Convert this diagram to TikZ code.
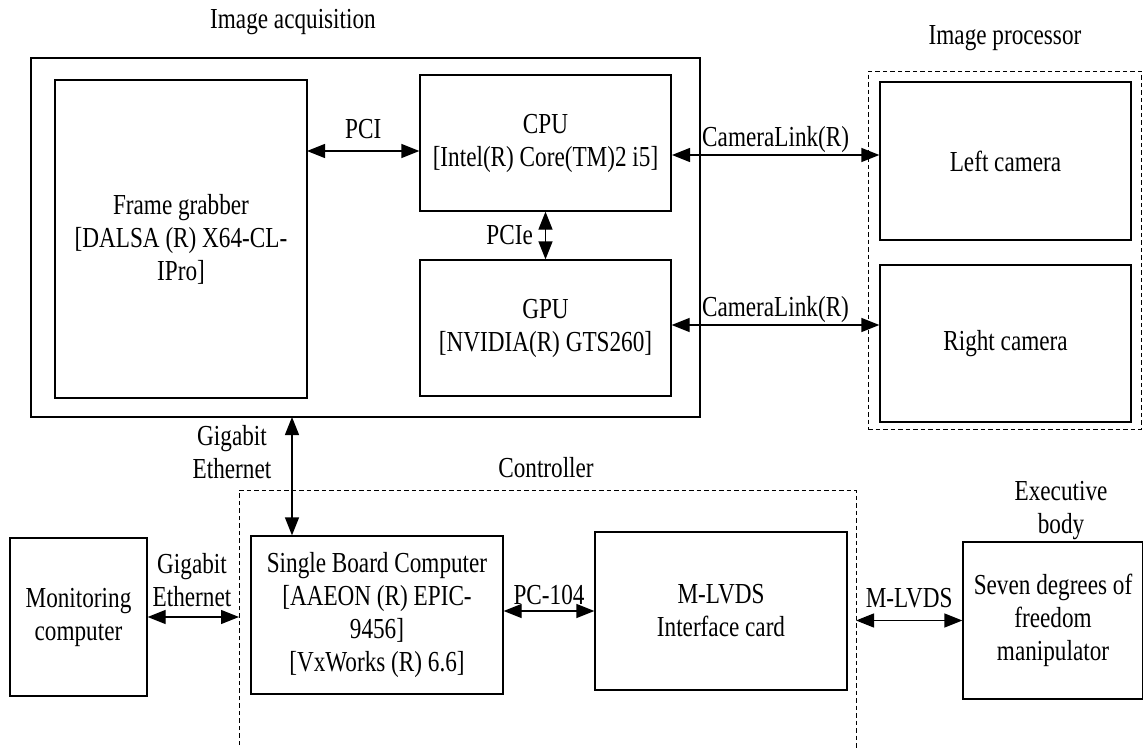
\documentclass[tikz,border=0pt]{standalone}
\usepackage{fontspec}
\setmainfont[FakeStretch=0.8]{Liberation Serif}
\usetikzlibrary{arrows.meta}
\begin{document}
\begin{tikzpicture}[x=1pt,y=-1pt,
  font=\fontsize{29}{33}\selectfont,
  blk/.style={draw, line width=1.3pt, inner sep=0pt, align=center},
  dsh/.style={line width=1pt, dash pattern=on 4.5pt off 3pt},
  grp/.style={draw, dsh, inner sep=0pt},
  lbl/.style={inner sep=0pt, align=center},
  arr/.style={line width=1.3pt, {Triangle[length=18pt,width=14pt]}-{Triangle[length=18pt,width=14pt]}}]
\useasboundingbox (0,0) rectangle (1143,747);
\clip (0,0) rectangle (1143,747);
% group frames
\node[blk, minimum width=669pt, minimum height=359pt] (acq) at (365.5,237.5) {};
\node[grp, minimum width=273pt, minimum height=358pt] (proc) at (1004.5,250) {};
\coordinate (ctl) at (239,490);
\coordinate (ctr) at (856,490);
\draw[dsh] (239,760) -- (ctl) -- (ctr) -- (856,760);
% blocks
\node[blk, minimum width=252pt, minimum height=318pt] (fg) at (181,239) {Frame grabber\\{[}DALSA (R) X64-CL-\\IPro]};
\node[blk, minimum width=251pt, minimum height=136pt] (cpu) at (545.5,143) {CPU\\{[}Intel(R) Core(TM)2 i5]};
\node[blk, minimum width=251pt, minimum height=136pt] (gpu) at (545.5,328) {GPU\\{[}NVIDIA(R) GTS260]};
\node[blk, minimum width=251pt, minimum height=158pt] (lcam) at (1005.5,161) {Left camera};
\node[blk, minimum width=251pt, minimum height=157pt] (rcam) at (1005.5,343.5) {Right camera};
\node[blk, minimum width=137pt, minimum height=158pt] (mon) at (78.5,617) {Monitoring\\computer};
\node[blk, minimum width=252pt, minimum height=158pt] (sbc) at (377,615) {Single Board Computer\\{[}AAEON (R) EPIC-\\9456]\\{[}VxWorks (R) 6.6]};
\node[blk, minimum width=252pt, minimum height=158pt] (mlvds) at (721,611) {M-LVDS\\Interface card};
\node[blk, minimum width=180pt, minimum height=157pt] (exec) at (1053,620.5) {Seven degrees of\\freedom\\manipulator};
% titles
\node[lbl] (tacq) at (293,22) {Image acquisition};
\node[lbl] (tproc) at (1005,38) {Image processor};
\node[lbl] (tctl) at (546,468) {Controller};
\node[lbl] (texec) at (1061,511) {Executive\\body};
% helper coordinates
\coordinate (pcia) at (307,151);
\coordinate (cl1) at (672,155);
\coordinate (ge) at (292,417);
% connectors
\draw[arr] (pcia) -- (pcia -| cpu.west) node[lbl, midway, above=12pt] (lpci) {PCI};
\draw[arr] (cpu.south) -- (gpu.north) node[lbl, midway, left=12pt] (lpcie) {PCIe};
\draw[arr] (cl1) -- (cl1 -| lcam.west) node[lbl, midway, above=2pt] (lcl1) {CameraLink(R)};
\draw[arr] ([yshift=3pt]gpu.east) -- ([yshift=3pt]gpu.east -| rcam.west) node[lbl, midway, above=2pt] (lcl2) {CameraLink(R)};
\draw[arr] (ge) -- (ge |- sbc.north) ;
\node[lbl] (lge1) at (232,452) {Gigabit\\Ethernet};
\draw[arr] (mon.east) -- (mon.east -| ctl);
\node[lbl] (lge2) at (192,580) {Gigabit\\Ethernet};
\draw[arr] (sbc.east |- mlvds.west) -- (mlvds.west) node[lbl, midway, above=6pt] (lpc) {PC-104};
\draw[arr] (exec.west -| ctr) -- (exec.west) node[lbl, midway, above=12pt] (lml) {M-LVDS};
\end{tikzpicture}
\end{document}
